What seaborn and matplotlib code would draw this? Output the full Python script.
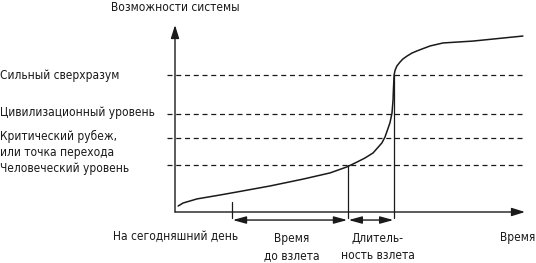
import matplotlib
matplotlib.use("Agg")
import matplotlib.pyplot as plt
import seaborn as sns
import pandas as pd

# ---- data (time vs. system capability, arbitrary units 0..100) ----
curve_t = [0.9, 2.3, 4.3, 6.3, 12.9, 17.7, 27.1, 36.6, 44.3, 49.1, 52.0, 54.3,
           56.6, 59.1, 60.0, 60.9, 61.4, 62.0, 62.3, 62.4, 62.6, 62.9, 63.4,
           64.3, 65.1, 66.3, 67.7, 69.1, 70.9, 72.9, 76.6, 85.1, 99.4]
curve_c = [3.2, 4.8, 5.9, 7.0, 9.1, 10.7, 13.9, 17.6, 20.9, 24.1, 26.7, 28.9,
           31.6, 36.9, 40.1, 44.9, 47.6, 52.9, 59.9, 65.2, 73.3, 75.9, 78.1,
           80.2, 81.8, 83.4, 85.0, 86.1, 87.4, 88.8, 90.4, 91.4, 94.1]

level_labels = ["Сильный сверхразум", "Цивилизационный уровень",
                "Критический рубеж,\nили точка перехода", "Человеческий уровень"]
level_values = [73.3, 52.4, 39.6, 25.1]
level_label_y = [73.0, 53.0, 36.0, 23.5]

t_today = 16.3
t_takeoff_start = 49.4
t_takeoff_end = 62.6
c_takeoff_start = 25.1
c_takeoff_end = 73.3

x_label = "Время"
y_label = "Возможности системы"
today_label = "На сегодняшний день"
wait_label = "Время\nдо взлета"
dur_label = "Длитель-\nность взлета"

# ---- style ----
sns.set_style("white")
plt.rcParams['font.family'] = ['DejaVu Sans']
plt.rcParams['font.stretch'] = 'condensed'
FS = 8.6
ink = "#1a1a1a"
txt = dict(fontsize=FS, color=ink, clip_on=False, fontstretch='condensed')

W, H = 536, 263
fig = plt.figure(figsize=(W / 100, H / 100), dpi=100)
ax = fig.add_axes([175 / W, (H - 212) / H, 350 / W, 187 / H])
ax.set_xlim(0, 100)
ax.set_ylim(0, 100)
for s in ax.spines.values():
    s.set_visible(False)
ax.set_xticks([])
ax.set_yticks([])
ax.patch.set_alpha(0)

# axes with arrows
ax.annotate("", xy=(100, 0), xytext=(0, 0), annotation_clip=False,
            arrowprops=dict(arrowstyle="-|>,head_length=0.8,head_width=0.25",
                            color=ink, lw=1.0, shrinkA=0, shrinkB=0))
ax.annotate("", xy=(0, 100), xytext=(0, 0), annotation_clip=False,
            arrowprops=dict(arrowstyle="-|>,head_length=0.8,head_width=0.25",
                            color=ink, lw=1.0, shrinkA=0, shrinkB=0))

# dashed levels
for v in level_values:
    ax.plot([-2.3, 99.4], [v, v], ls=(0, (4, 3)), color=ink, lw=0.9, clip_on=False)

# curve
df = pd.DataFrame({"t": curve_t, "c": curve_c})
sns.lineplot(data=df, x="t", y="c", ax=ax, color=ink, lw=1.1, sort=False,
             estimator=None)
ax.set_xlabel("")
ax.set_ylabel("")

# verticals
ax.plot([t_takeoff_start, t_takeoff_start], [c_takeoff_start, -3.2], color=ink, lw=0.9, clip_on=False)
ax.plot([t_takeoff_end, t_takeoff_end], [c_takeoff_end, -3.2], color=ink, lw=0.9, clip_on=False)
ax.plot([t_today, t_today], [5.3, -3.2], color=ink, lw=0.9, clip_on=False)

# double arrows
for a, b in [(t_today, t_takeoff_start), (t_takeoff_start, t_takeoff_end)]:
    ax.annotate("", xy=(b, -4.3), xytext=(a, -4.3), annotation_clip=False,
                arrowprops=dict(arrowstyle="<|-|>,head_length=0.8,head_width=0.22",
                                color=ink, lw=1.0, shrinkA=0.5, shrinkB=0.5))

# texts
ax.text(0, 109.6, y_label, ha="center", va="center", **txt)
ax.text(103, -13.4, x_label, ha="right", va="center", **txt)
ax.text(0.3, -13.4, today_label, ha="center", va="center", **txt)
ax.text(33.4, -18.7, wait_label, ha="center", va="center", linespacing=1.35, **txt)
ax.text(58.0, -18.7, dur_label, ha="center", va="center", linespacing=1.35, **txt)

for lab, y in zip(level_labels, level_label_y):
    ax.text(-50, y, lab, ha="left", va="center", linespacing=1.3, **txt)

fig.savefig("out.png", dpi=100, facecolor="white")
